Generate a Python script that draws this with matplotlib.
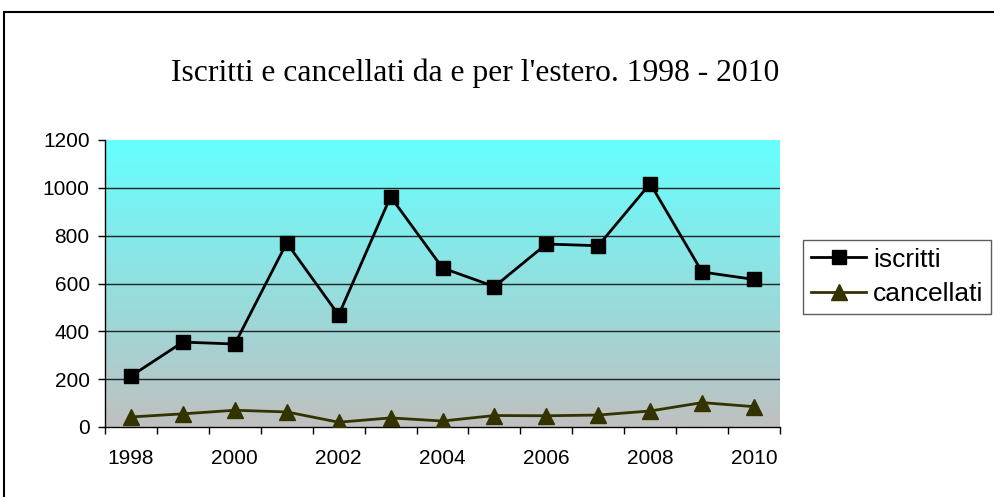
import numpy as np
import matplotlib
matplotlib.use("Agg")
import matplotlib.pyplot as plt
from matplotlib.patches import Rectangle
from matplotlib.colors import LinearSegmentedColormap

# Dati
anni = [1998, 1999, 2000, 2001, 2002, 2003, 2004, 2005, 2006, 2007, 2008, 2009, 2010]
iscritti = [213, 355, 347, 770, 468, 963, 665, 587, 765, 758, 1018, 648, 617]
cancellati = [42, 55, 70, 63, 20, 38, 25, 48, 47, 50, 67, 102, 85]
y_ticks = [0, 200, 400, 600, 800, 1000, 1200]

plt.rcParams['font.family'] = ['Liberation Sans', 'DejaVu Sans']

fig = plt.figure(figsize=(9.94, 4.97), dpi=100)
ax = fig.add_axes([105 / 994, 70 / 497, 675 / 994, 287 / 497])

x = np.arange(len(anni))

# sfondo sfumato ciano -> grigio
cmap = LinearSegmentedColormap.from_list("bg", ["#c0c0c0", "#66ffff"])
grad = np.linspace(0, 1, 256).reshape(-1, 1)
ax.imshow(grad, aspect="auto", cmap=cmap, origin="lower",
          extent=[0, 1, 0, 1], transform=ax.transAxes, zorder=0)

for v in y_ticks[1:-1]:
    ax.axhline(v, color="#222222", lw=1, zorder=1)

ax.plot(x, iscritti, color="black", lw=2, marker="s", markersize=10,
        label="iscritti", zorder=3)
ax.plot(x, cancellati, color="#333300", lw=2, marker="^", markersize=11,
        label="cancellati", zorder=3)

ax.set_xlim(-0.5, len(anni) - 0.5)
ax.set_ylim(0, 1200)
ax.set_yticks(y_ticks)
ax.tick_params(axis="y", labelsize=15, length=5, width=1, direction="out", pad=6)

# etichette ogni due anni, tacche tra le categorie
ax.set_xticks(np.arange(-0.5, len(anni)), minor=True)
ax.set_xticks(x[::2])
ax.set_xticklabels([str(a) for a in anni[::2]])
ax.tick_params(axis="x", which="major", length=0, labelsize=15, pad=16)
ax.tick_params(axis="x", which="minor", length=5, width=1, direction="out")

for s in ["top", "right"]:
    ax.spines[s].set_visible(False)
for s in ["left", "bottom"]:
    ax.spines[s].set_color("black")
    ax.spines[s].set_linewidth(1)

fig.text(475 / 994, 1 - 73 / 497, "Iscritti e cancellati da e per l'estero. 1998 - 2010",
         family=["Liberation Serif", "DejaVu Serif"], fontsize=22.8,
         ha="center", va="center")

leg = ax.legend(loc="center left", bbox_to_anchor=(803 / 994, 1 - 277 / 497),
                bbox_transform=fig.transFigure, fontsize=19, frameon=True,
                fancybox=False, shadow=False, handlelength=2.1,
                handletextpad=0.25, borderpad=0.3, labelspacing=0.4,
                borderaxespad=0)
leg.get_frame().set_edgecolor("#333333")
leg.get_frame().set_linewidth(1)

# bordo esterno del grafico
fig.patches.append(Rectangle((4 / 994, -0.1), 1.2, (497 - 12) / 497 + 0.1,
                             transform=fig.transFigure, fill=False,
                             edgecolor="black", lw=1.5, clip_on=False))

fig.savefig("out.png", dpi=100)
